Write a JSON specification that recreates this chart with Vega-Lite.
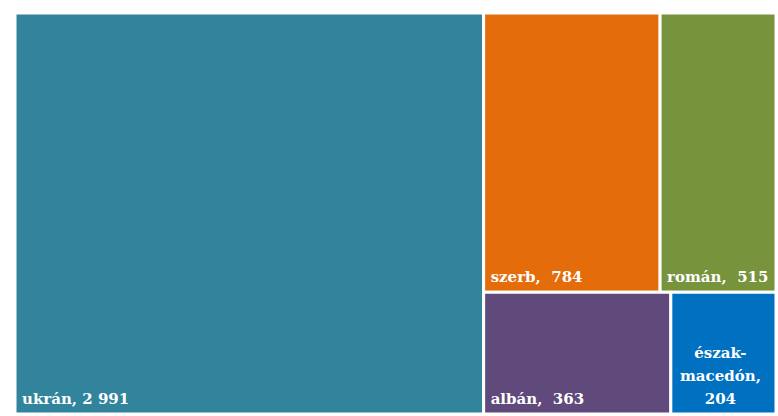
{
  "$schema": "https://vega.github.io/schema/vega-lite/v6.json",
  "width": 761,
  "height": 401,
  "autosize": "none",
  "padding": {"left": 15, "top": 13, "right": 2, "bottom": 2},
  "background": "white",
  "config": {"view": {"stroke": null}},
  "data": {
    "values": [
      {"name": "ukrán", "value": 2991, "col": 1, "band": 1, "label": "ukrán, 2 991"},
      {"name": "szerb", "value": 784, "col": 2, "band": 1, "label": "szerb,\u00a0 784"},
      {"name": "román", "value": 515, "col": 2, "band": 1, "label": "román,\u00a0 515"},
      {"name": "albán", "value": 363, "col": 2, "band": 2, "label": "albán,\u00a0 363"},
      {"name": "észak-macedón", "value": 204, "col": 2, "band": 2, "label": "észak-\nmacedón,\n204"}
    ]
  },
  "transform": [
    {"joinaggregate": [{"op": "sum", "field": "value", "as": "total"}]},
    {"joinaggregate": [{"op": "sum", "field": "value", "as": "colSum"}], "groupby": ["col"]},
    {"joinaggregate": [{"op": "sum", "field": "value", "as": "bandSum"}], "groupby": ["col", "band"]},
    {"window": [{"op": "sum", "field": "value", "as": "cumAll"}], "sort": [{"field": "col", "order": "ascending"}, {"field": "band", "order": "ascending"}, {"field": "value", "order": "descending"}], "frame": [null, 0]},
    {"joinaggregate": [{"op": "max", "field": "cumAll", "as": "colEnd"}], "groupby": ["col"]},
    {"window": [{"op": "sum", "field": "value", "as": "cumCol"}], "groupby": ["col"], "sort": [{"field": "band", "order": "ascending"}, {"field": "value", "order": "descending"}], "frame": [null, 0]},
    {"joinaggregate": [{"op": "max", "field": "cumCol", "as": "bandEnd"}], "groupby": ["col", "band"]},
    {"window": [{"op": "sum", "field": "value", "as": "cumBand"}], "groupby": ["col", "band"], "sort": [{"field": "value", "order": "descending"}], "frame": [null, 0]},
    {"calculate": "(datum.colEnd - datum.colSum) / datum.total", "as": "cx0"},
    {"calculate": "datum.colEnd / datum.total", "as": "cx1"},
    {"calculate": "(datum.bandEnd - datum.bandSum) / datum.colSum", "as": "by0"},
    {"calculate": "datum.bandEnd / datum.colSum", "as": "by1"},
    {"calculate": "datum.cx0 + (datum.cx1 - datum.cx0) * (datum.cumBand - datum.value) / datum.bandSum", "as": "rx0"},
    {"calculate": "datum.cx0 + (datum.cx1 - datum.cx0) * datum.cumBand / datum.bandSum", "as": "rx1"},
    {"calculate": "(datum.rx0 + datum.rx1) / 2", "as": "xm"}
  ],
  "layer": [
    {
      "mark": {"type": "rect", "stroke": "white", "strokeWidth": 3},
      "encoding": {
        "x": {"field": "rx0", "type": "quantitative", "scale": {"domain": [0, 1], "nice": false, "zero": false}, "axis": null},
        "x2": {"field": "rx1"},
        "y": {"field": "by0", "type": "quantitative", "scale": {"domain": [0, 1], "nice": false, "zero": false, "reverse": true}, "axis": null},
        "y2": {"field": "by1"},
        "color": {"field": "name", "type": "nominal", "scale": {"domain": ["ukrán", "szerb", "román", "albán", "észak-macedón"], "range": ["#31849B", "#E46C0A", "#77933C", "#604A7B", "#0070C0"]}, "legend": null}
      }
    },
    {
      "transform": [{"filter": "datum.name != 'észak-macedón'"}],
      "mark": {"type": "text", "align": "left", "baseline": "alphabetic", "dx": 7, "dy": -10, "font": "DejaVu Serif", "fontWeight": "bold", "fontSize": 15, "color": "white"},
      "encoding": {
        "x": {"field": "rx0", "type": "quantitative"},
        "y": {"field": "by1", "type": "quantitative"},
        "text": {"field": "label"}
      }
    },
    {
      "transform": [{"filter": "datum.name == 'észak-macedón'"}],
      "mark": {"type": "text", "align": "center", "baseline": "alphabetic", "lineBreak": "\n", "lineHeight": 23, "dy": -56, "dx": -3, "font": "DejaVu Serif", "fontWeight": "bold", "fontSize": 15, "color": "white"},
      "encoding": {
        "x": {"field": "xm", "type": "quantitative"},
        "y": {"field": "by1", "type": "quantitative"},
        "text": {"field": "label"}
      }
    }
  ]
}
